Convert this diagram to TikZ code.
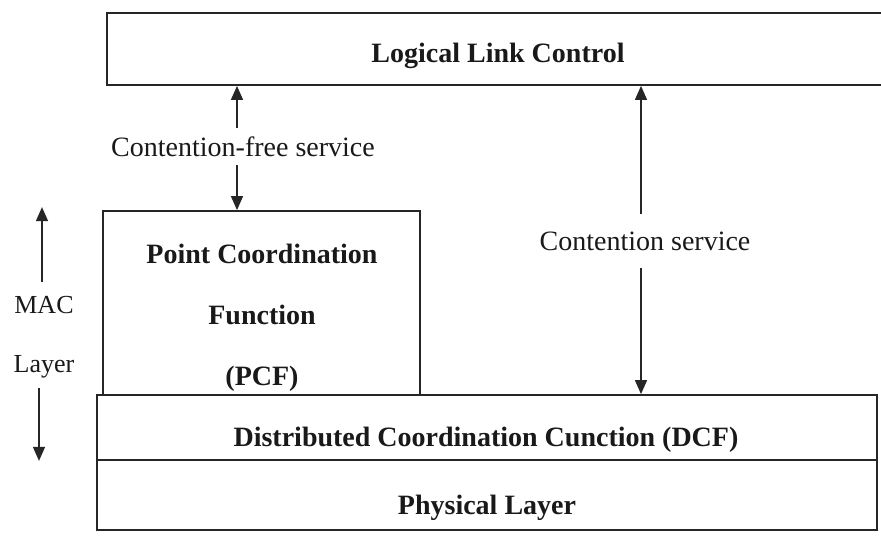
\documentclass[tikz,border=0pt]{standalone}
\usepackage{fontspec}
\setmainfont{Liberation Serif}
\usetikzlibrary{positioning, fit, arrows.meta, calc}
\tikzset{layerbox/.style={
    rectangle,
    draw,
    inner sep=0pt,
    line width=0.9pt
}}
\tikzset{boxtext/.style={
    font=\fontsize{14}{30.5}\selectfont\bfseries,
    align=center,
    inner sep=0pt
}}
\tikzset{service/.style={
    font=\fontsize{14}{17}\selectfont,
    anchor=base
}}

\begin{document}
\begin{tikzpicture}[
    x=0.5pt, y=-0.5pt,
    >={Triangle[length=7pt, width=6pt]}, line width=0.7pt, black!85,
    text=black!90
]
    \useasboundingbox (0,0) rectangle (881,537);
    % Layer boxes
    \node (llc) [layerbox, fit={(107,13) (886,85)}] {};
    \node (pcf) [layerbox, fit={(103,211) (420,395)}] {};
    \node (dcf) [layerbox, fit={(97,395) (877,460)}] {};
    \node (phy) [layerbox, fit={(97,460) (877,530)}] {};
    % Box texts
    \node (llc-t) [boxtext, anchor=base] at (498,62) {Logical Link Control};
    \node (pcf-t) [boxtext] at (262,318) {Point Coordination\\Function\\(PCF)};
    \node (dcf-t) [boxtext, anchor=base] at (486,446) {Distributed Coordination Cunction (DCF)};
    \node (phy-t) [boxtext, anchor=base] at (487,514) {Physical Layer};
    % Services
    \node (cfree) [service, inner sep=4pt] at (243,156) {Contention-free service};
    \node (cserv) [service, inner sep=8.5pt] at (645,250) {Contention service};
    \node (mac) [align=center, inner sep=0pt, font=\fontsize{13}{29.5}\selectfont] at (44,337) {MAC\\Layer};

    \draw [->] ([xshift=-3pt]cfree.north) -- ([xshift=-3pt]cfree.north |- llc.south);
    \draw [->] ([xshift=-3pt]cfree.south) -- ([xshift=-3pt]cfree.south |- pcf.north);
    \draw [->] ([xshift=-2pt]cserv.north) -- ([xshift=-2pt]cserv.north |- llc.south);
    \draw [->] ([xshift=-2pt]cserv.south) -- ([xshift=-2pt]cserv.south |- dcf.north);
    \draw [->] ([xshift=-1pt, yshift=6.5pt]mac.north) -- ([xshift=-1pt, yshift=1.5pt]mac.north |- pcf.north);
    \draw [->] ([xshift=-2.5pt, yshift=-4.7pt]mac.south) -- ([xshift=-2.5pt]mac.south |- dcf.south);
\end{tikzpicture}
\end{document}
